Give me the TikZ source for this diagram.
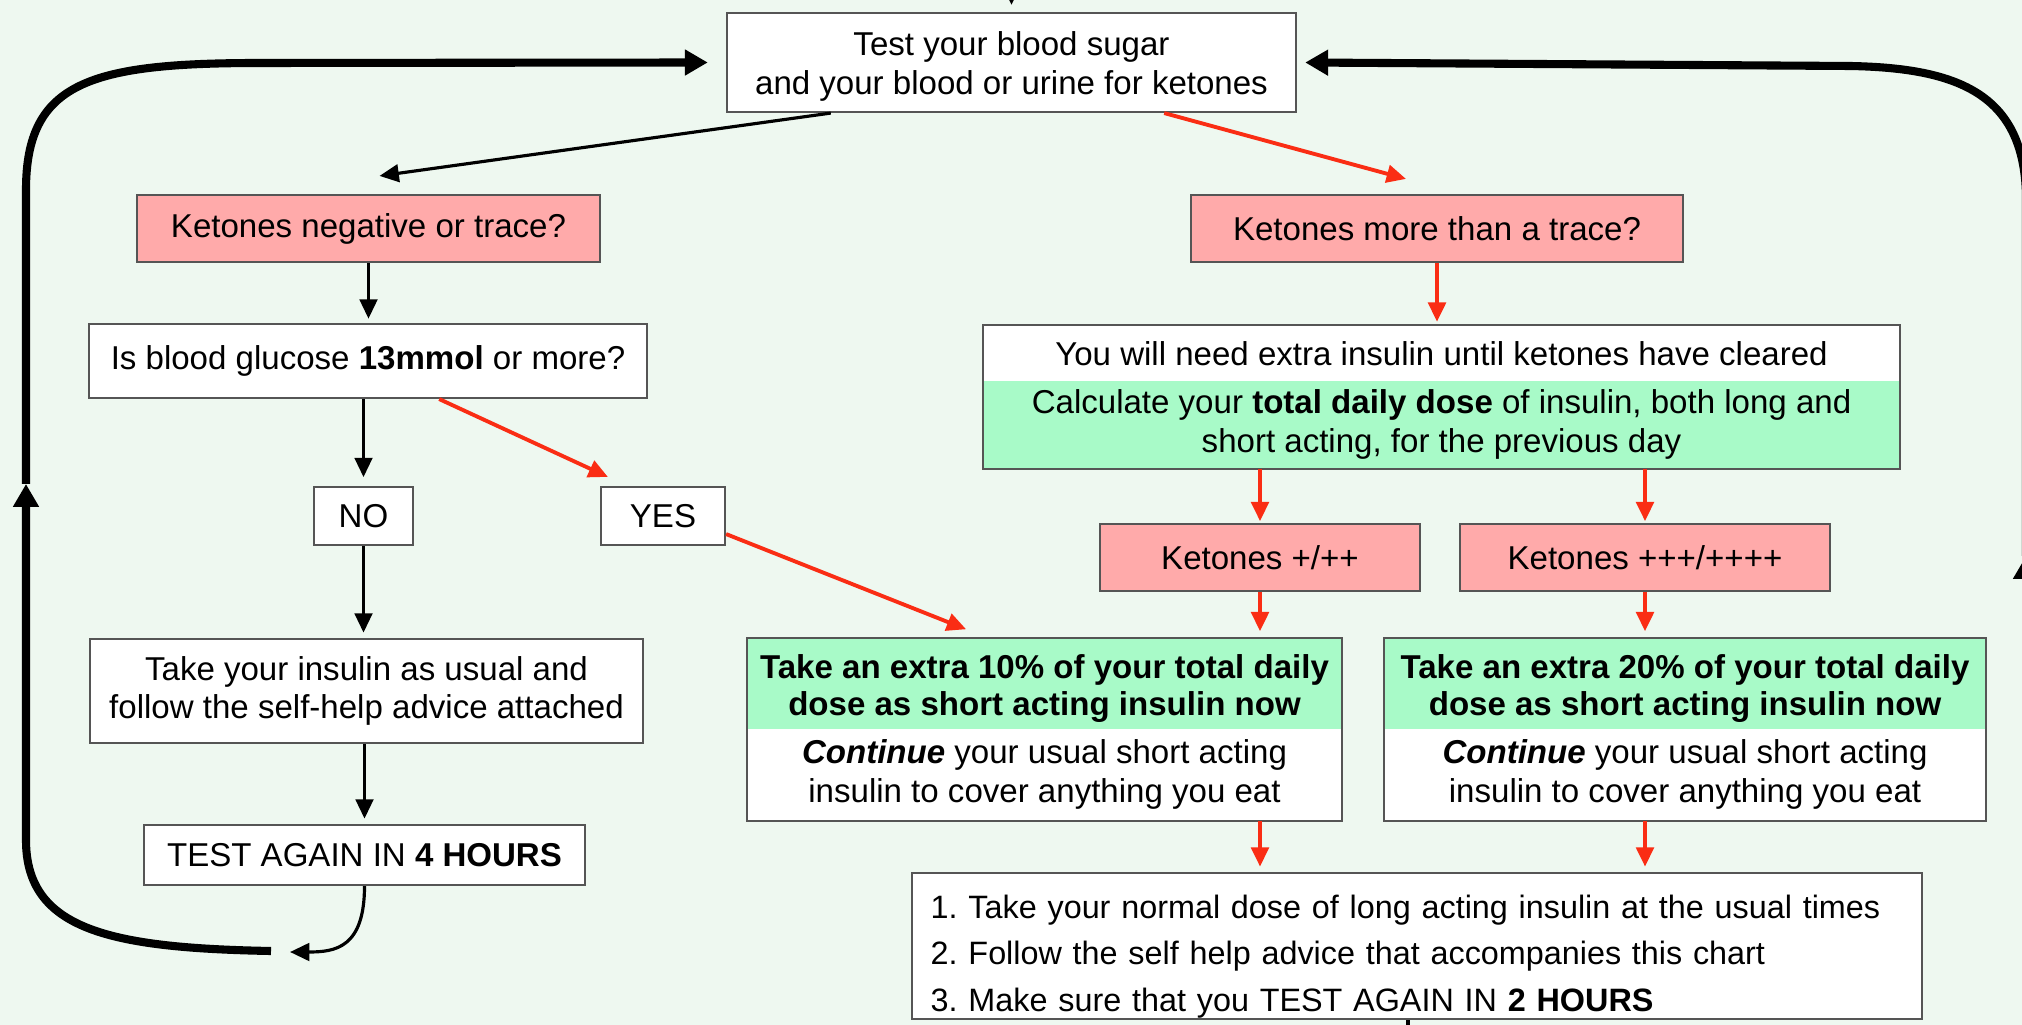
\documentclass[tikz,border=0pt]{standalone}
\usepackage{fontspec}
\setmainfont{Liberation Sans}
\usetikzlibrary{arrows.meta,calc}
\definecolor{bg}{RGB}{238,248,240}
\definecolor{pinkbox}{RGB}{255,170,170}
\definecolor{greenbox}{RGB}{168,250,200}
\definecolor{redarrow}{RGB}{250,45,20}
\definecolor{boxline}{RGB}{85,85,85}
\tikzset{
  box/.style={draw=boxline, line width=0.6pt, fill=white, inner sep=0pt, align=center, anchor=center},
  pinkb/.style={box, fill=pinkbox},
  part/.style={inner sep=0pt, align=center, anchor=center},
  barrow/.style={draw=black, line width=0.9pt, -{Triangle[length=5.5pt,width=5pt]}},
  rarrow/.style={draw=redarrow, line width=1.1pt, -{Triangle[length=5.5pt,width=5pt]}},
  loopline/.style={draw=black, line width=2.3pt},
  bigtip/.style={-{Triangle[length=6.5pt,width=7pt]}},
}
\frenchspacing
\begin{document}
\begin{tikzpicture}[x=0.01cm,y=-0.01cm,font=\fontsize{9.4}{11}\selectfont]
\useasboundingbox (0,0) rectangle (2022,1025);
\fill[bg] (0,0) rectangle (2022,1025);
\clip (0,0) rectangle (2022,1025);

% boxes
\node[box, minimum width=5.69cm, minimum height=0.99cm] (top) at (1011.5,62.5)
  {\rule{0pt}{9pt}Test your blood sugar\\and your blood or urine for ketones};
\node[pinkb, minimum width=4.63cm, minimum height=0.67cm] (ketneg) at (368.5,228.5)
  {Ketones negative or trace?};
\node[pinkb, minimum width=4.92cm, minimum height=0.67cm] (ketmore) at (1437,228.5)
  {Ketones more than a trace?};
\node[box, minimum width=5.58cm, minimum height=0.74cm] (glucose) at (368,361)
  {Is blood glucose \textbf{13mmol} or more?};
\node[box, minimum width=0.99cm, minimum height=0.58cm] (no) at (363.5,516) {NO};
\node[box, minimum width=1.24cm, minimum height=0.58cm] (yes) at (663,516) {YES};

\node[part, fill=white, minimum width=9.15cm, minimum height=0.55cm] (needa) at (1441.5,353.5)
  {You will need extra insulin until ketones have cleared};
\node[part, fill=greenbox, minimum width=9.15cm, minimum height=0.87cm] (needb) at (1441.5,424.5)
  {Calculate your \textbf{total daily dose} of insulin, both long and\\short acting, for the previous day};
\draw[draw=boxline, line width=0.6pt] (needa.north west) rectangle (needb.south east);

\node[pinkb, minimum width=3.20cm, minimum height=0.67cm] (kp) at (1260,557.5) {Ketones +/++};
\node[pinkb, minimum width=3.70cm, minimum height=0.67cm] (kpp) at (1645,557.5) {Ketones +++/++++};

\node[box, minimum width=5.53cm, minimum height=1.04cm] (takeins) at (366.5,691)
  {Take your insulin as usual and\\follow the self-help advice attached};

\node[part, fill=greenbox, minimum width=5.93cm, minimum height=0.90cm, font=\fontsize{9.4}{10.6}\selectfont\bfseries] (tena) at (1044.5,684)
  {\rule{0pt}{9.5pt}Take an extra 10\% of your total daily\\dose as short acting insulin now};
\node[part, fill=white, minimum width=5.93cm, minimum height=0.91cm] (tenb) at (1044.5,774.5)
  {\textbf{\textit{Continue}} your usual short acting\\insulin to cover anything you eat};
\draw[draw=boxline, line width=0.6pt] (tena.north west) rectangle (tenb.south east);

\node[part, fill=greenbox, minimum width=6.00cm, minimum height=0.90cm, font=\fontsize{9.4}{10.6}\selectfont\bfseries] (twa) at (1685,684)
  {\rule{0pt}{9.5pt}Take an extra 20\% of your total daily\\dose as short acting insulin now};
\node[part, fill=white, minimum width=6.00cm, minimum height=0.91cm] (twb) at (1685,774.5)
  {\textbf{\textit{Continue}} your usual short acting\\insulin to cover anything you eat};
\draw[draw=boxline, line width=0.6pt] (twa.north west) rectangle (twb.south east);

\node[box, minimum width=4.41cm, minimum height=0.60cm] (test4) at (364.5,855)
  {TEST AGAIN IN \textbf{4 HOURS}};

\node[box, align=left, text width=9.72cm, inner xsep=0.19cm, minimum height=1.46cm,
  font=\fontsize{9.2}{13.2}\selectfont] (final) at (1417,946)
  {\rule{0pt}{12.5pt}1. Take your normal dose of long acting insulin at the usual times\\
   2. Follow the self help advice that accompanies this chart\\
   3. Make sure that you TEST AGAIN IN \textbf{2 HOURS}};

% connectors
\draw[barrow] ($(top.north)+(0,-40)$) -- ($(top.north)+(0,-7)$);
\draw[barrow] ($(top.south west)+(105,0)$) -- ($(ketneg.north)+(11,-18)$);
\draw[rarrow] ($(top.south east)+(-133,0)$) -- ($(ketmore.north)+(-31,-15)$);
\draw[barrow, shorten >=1.2pt] (ketneg.south) -- (ketneg.south |- glucose.north);
\draw[rarrow, shorten >=1pt] (ketmore.south) -- (ketmore.south |- needa.north);
\draw[barrow, shorten >=2.5pt] (no.north |- glucose.south) -- (no.north);
\draw[rarrow] ($(glucose.south east)+(-209,0)$) -- ($(yes.north west)+(8,-9)$);
\draw[barrow, shorten >=1.5pt] (no.south) -- (no.south |- takeins.north);
\draw[barrow, shorten >=1.5pt] (test4.north |- takeins.south) -- (test4.north);
\draw[rarrow] ($(yes.south east)+(0,-12)$) -- ($(tena.north west)+(219,-9)$);
\draw[rarrow, shorten >=0.5pt] (kp.north |- needb.south) -- (kp.north);
\draw[rarrow, shorten >=0.5pt] (kpp.north |- needb.south) -- (kpp.north);
\draw[rarrow, shorten >=2pt] (kp.south) -- (kp.south |- tena.north);
\draw[rarrow, shorten >=2pt] (kpp.south) -- (kpp.south |- twa.north);
\draw[rarrow, shorten >=1.5pt] (kp.south |- tenb.south) -- (kp.south |- final.north);
\draw[rarrow, shorten >=1.5pt] (kpp.south |- twb.south) -- (kpp.south |- final.north);
\draw[line width=0.9pt] ($(final.south)+(-9,0)$) -- ++(0,30);

% return from TEST AGAIN IN 4 HOURS
\coordinate (ret) at (290,952);
\draw[barrow] (test4.south) .. controls ($(test4.south)+(0,62)$) and ($(ret)+(45,0)$) .. (ret);

% left loop
\coordinate (lstart) at (271,951);
\coordinate (lmid) at (26,484);
\coordinate (lcorner) at (260,63);
\draw[loopline, bigtip] (lstart) .. controls (110,948) and (26,930) .. (26,840) -- (lmid);
\draw[loopline, bigtip] (lmid) -- (26,190) .. controls (26,82) and (90,63) .. (lcorner) -- ($(top.west)+(-18,0)$);

% right loop
\coordinate (rmid) at (2026,556);
\coordinate (rcorner) at (1850,66);
\draw[loopline, bigtip] (2026,1040) -- (rmid);
\draw[loopline, bigtip] (rmid) -- (2026,200) .. controls (2026,95) and (1960,68) .. (rcorner) -- ($(top.east)+(8,0)$);
\end{tikzpicture}
\end{document}
